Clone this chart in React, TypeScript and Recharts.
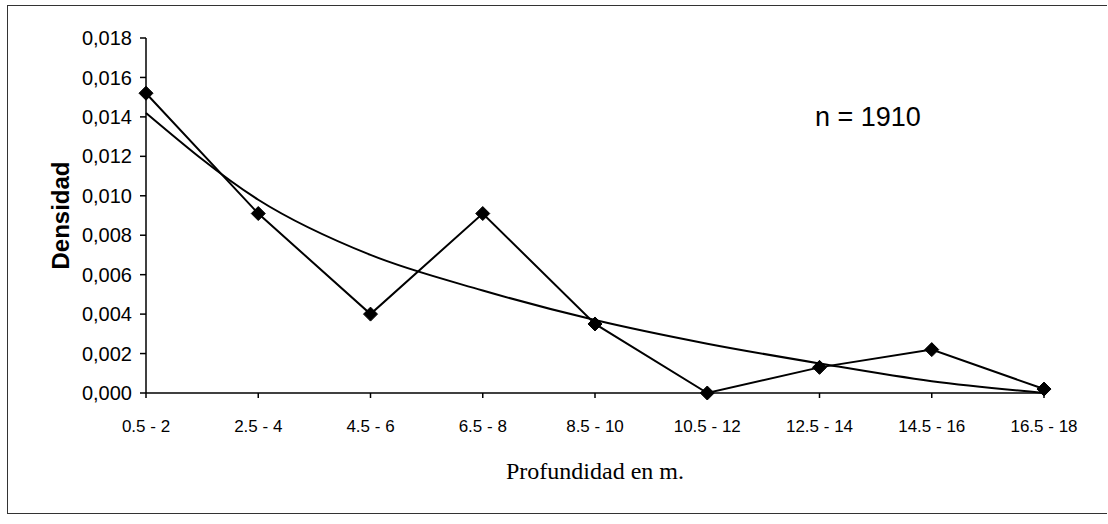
import React from 'react';
import { LineChart, Line, XAxis, YAxis, Label } from 'recharts';

const categories = ['0.5 - 2', '2.5 - 4', '4.5 - 6', '6.5 - 8', '8.5 - 10', '10.5 - 12', '12.5 - 14', '14.5 - 16', '16.5 - 18'];
const densidad = [0.0152, 0.0091, 0.0040, 0.0091, 0.0035, 0.0000, 0.0013, 0.0022, 0.0002];
const tendencia = [0.0142, 0.0098, 0.0070, 0.0052, 0.0037, 0.0025, 0.0015, 0.0006, 0.0000];
const yTicks = [0, 0.002, 0.004, 0.006, 0.008, 0.010, 0.012, 0.014, 0.016, 0.018];

const data = categories.map((c, i) => ({ cat: c, densidad: densidad[i], tendencia: tendencia[i] }));

const font = '"Liberation Sans", Arial, sans-serif';

const Diamond = (props: any) => {
  const { cx, cy } = props;
  if (cx == null || cy == null) return null;
  const r = 7;
  return (
    <polygon
      points={`${cx},${cy - r} ${cx + r},${cy} ${cx},${cy + r} ${cx - r},${cy}`}
      fill="#000"
      stroke="#000"
    />
  );
};

export default function App() {
  return (
    <div style={{ position: 'absolute', left: 0, top: 0, width: 1108, height: 524, background: '#fff' }}>
      <div
        style={{
          position: 'absolute',
          left: 7,
          top: 5,
          width: 1100,
          height: 509,
          border: '1px solid #333',
          borderRight: 'none',
          boxSizing: 'border-box',
        }}
      />
      <div style={{ position: 'absolute', left: 0, top: 0 }}>
        <LineChart width={1108} height={524} data={data} margin={{ top: 38, right: 64, bottom: 91, left: 66 }}>
          <XAxis
            dataKey="cat"
            stroke="#000"
            strokeWidth={1.5}
            tickSize={5}
            tickMargin={22}
            height={40}
            interval={0}
            tick={{ fill: '#000', fontFamily: font, fontSize: 17 }}
          >
            <Label
              value="Profundidad en m."
              position="insideBottom"
              offset={-46}
              style={{ fill: '#000', fontFamily: '"Liberation Serif", "Times New Roman", serif', fontSize: 24 }}
            />
          </XAxis>
          <YAxis
            width={80}
            domain={[0, 0.018]}
            ticks={yTicks}
            stroke="#000"
            strokeWidth={1.5}
            tickSize={6}
            tickMargin={8}
            tickFormatter={(v: number) => v.toFixed(3).replace('.', ',')}
            tick={{ fill: '#000', fontFamily: font, fontSize: 20 }}
          >
            <Label
              value="Densidad"
              angle={-90}
              position="insideLeft"
              offset={-6}
              style={{ fill: '#000', fontFamily: font, fontSize: 24, fontWeight: 'bold', textAnchor: 'middle' }}
            />
          </YAxis>
          <Line
            type="monotone"
            dataKey="tendencia"
            stroke="#000"
            strokeWidth={2}
            dot={false}
            activeDot={false}
            isAnimationActive={false}
          />
          <Line
            type="linear"
            dataKey="densidad"
            stroke="#000"
            strokeWidth={2}
            dot={<Diamond />}
            activeDot={false}
            isAnimationActive={false}
          />
        </LineChart>
      </div>
      <div
        style={{
          position: 'absolute',
          left: 815,
          top: 102,
          fontFamily: font,
          fontSize: 27,
          color: '#000',
          whiteSpace: 'nowrap',
        }}
      >
        n = 1910
      </div>
    </div>
  );
}
